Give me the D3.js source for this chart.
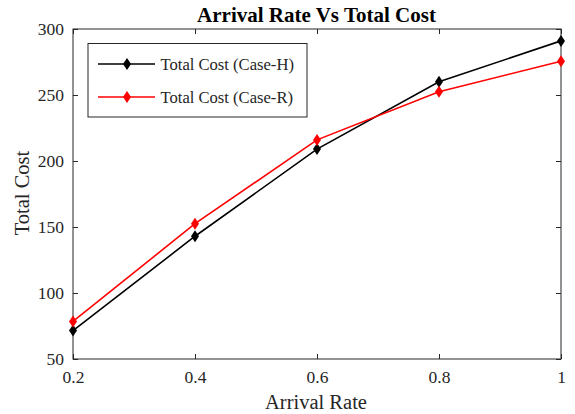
<!DOCTYPE html>
<html><head><meta charset="utf-8">
<script src="https://cdn.jsdelivr.net/npm/d3@7"></script>
<style>body{margin:0;background:#fff}svg{display:block}text{font-family:"Liberation Serif","Times New Roman",serif;fill:#262626}</style>
</head><body><svg id="c" width="575" height="414"></svg>
<script>
const arrivalRate = [0.2, 0.4, 0.6, 0.8, 1.0];
const costH = [71.5, 143, 209, 260, 291];
const costR = [78.5, 152.5, 216, 252.5, 275.5];
const xTicks = [0.2, 0.4, 0.6, 0.8, 1];
const yTicks = [50, 100, 150, 200, 250, 300];
const seriesNames = ["Total Cost (Case-H)", "Total Cost (Case-R)"];
const seriesColors = ["#000000", "#ff0000"];

const svg = d3.select("#c");
const L = 73, R = 561, T = 29, B = 359;
const x = d3.scaleLinear().domain([0.2, 1]).range([L, R]);
const y = d3.scaleLinear().domain([50, 300]).range([B, T]);
const axCol = "#262626";

svg.append("rect").attr("x", L).attr("y", T).attr("width", R - L).attr("height", B - T)
  .attr("fill", "none").attr("stroke", axCol).attr("stroke-width", 1);

const fmtX = d => d === 1 ? "1" : d3.format(".1f")(d);
const gx = svg.append("g").attr("transform", `translate(0,${B})`)
  .call(d3.axisBottom(x).tickValues(xTicks).tickFormat(fmtX).tickSizeInner(-5).tickSizeOuter(0));
const gxt = svg.append("g").attr("transform", `translate(0,${T})`)
  .call(d3.axisTop(x).tickValues(xTicks).tickFormat("").tickSizeInner(-5).tickSizeOuter(0));
const gy = svg.append("g").attr("transform", `translate(${L},0)`)
  .call(d3.axisLeft(y).tickValues(yTicks).tickSizeInner(-5).tickSizeOuter(0));
const gyr = svg.append("g").attr("transform", `translate(${R},0)`)
  .call(d3.axisRight(y).tickValues(yTicks).tickFormat("").tickSizeInner(-5).tickSizeOuter(0));
[gx, gxt, gy, gyr].forEach(g => {
  g.select(".domain").remove();
  g.selectAll("line").attr("stroke", axCol);
  g.selectAll("text").attr("font-size", 17.5).attr("font-family", "Liberation Serif").attr("fill", axCol);
});
gx.selectAll("text").attr("y", 24).attr("dy", 0);
gy.selectAll("text").attr("x", -9).attr("dy", "0.33em");

const diamond = "M0,-6L4,0L0,6L-4,0Z";
const series = [costH, costR];
const line = d3.line().x((d, i) => x(arrivalRate[i])).y(d => y(d));
series.forEach((s, k) => {
  svg.append("path").datum(s).attr("d", line).attr("fill", "none")
    .attr("stroke", seriesColors[k]).attr("stroke-width", 1.6);
  svg.selectAll(null).data(s).enter().append("path")
    .attr("d", diamond).attr("transform", (d, i) => `translate(${x(arrivalRate[i])},${y(d)})`)
    .attr("fill", seriesColors[k]);
});

svg.append("rect").attr("x", 88).attr("y", 43.5).attr("width", 219).attr("height", 73.5)
  .attr("fill", "#fff").attr("stroke", axCol).attr("stroke-width", 1);
const ly = [64, 97];
seriesNames.forEach((n, k) => {
  svg.append("line").attr("x1", 98).attr("x2", 155).attr("y1", ly[k]).attr("y2", ly[k])
    .attr("stroke", seriesColors[k]).attr("stroke-width", 1.6);
  svg.append("path").attr("d", diamond).attr("transform", `translate(127,${ly[k]})`).attr("fill", seriesColors[k]);
  svg.append("text").attr("x", 160.5).attr("y", ly[k] + 5.5).attr("font-size", 16.6).text(n);
});

svg.append("text").attr("x", 316.5).attr("y", 22).attr("text-anchor", "middle")
  .attr("font-size", 21).attr("font-weight", "bold").style("fill", "#000").text("Arrival Rate Vs Total Cost");
svg.append("text").attr("x", 316).attr("y", 409).attr("text-anchor", "middle")
  .attr("font-size", 20.5).text("Arrival Rate");
svg.append("text").attr("transform", `translate(29,193) rotate(-90)`).attr("text-anchor", "middle")
  .attr("font-size", 20.5).text("Total Cost");
</script></body></html>
